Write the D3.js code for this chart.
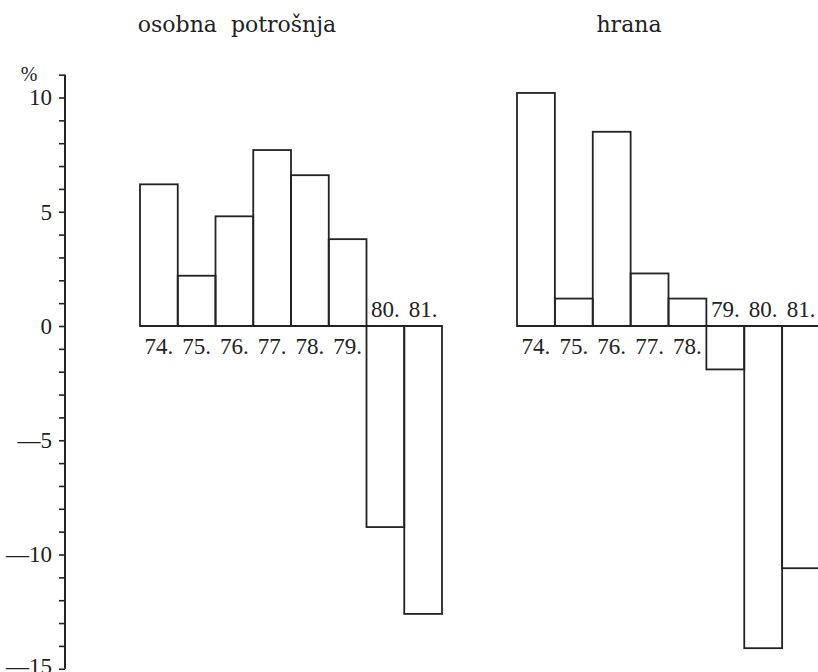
<!DOCTYPE html>
<html>
<head>
<meta charset="utf-8">
<script src="https://cdn.jsdelivr.net/npm/d3@7"></script>
<style>
  body { margin: 0; background: #fff; }
  text { fill: #222; }
  .times { font-family: "Liberation Serif", "Times New Roman", Times, serif; }
  .title { font-family: "DejaVu Serif", serif; }
</style>
</head>
<body>
<div id="chart"></div>
<script>
// data
const years = ["74.", "75.", "76.", "77.", "78.", "79.", "80.", "81."];
const osobnaPotrosnja = [6.2, 2.2, 4.8, 7.7, 6.6, 3.8, -8.8, -12.6];
const hrana = [10.2, 1.2, 8.5, 2.3, 1.2, -1.9, -14.1, -10.6];
const panelTitles = ["osobna \u00a0potrošnja", "hrana"];
const yTicks = [10, 5, 0, -5, -10, -15];

const svgWidth = 818, svgHeight = 672;

let svg = d3.select("#chart").append("svg")
            .attr("width", svgWidth)
            .attr("height", svgHeight);

// shared y scale
let yScale = d3.scaleLinear().domain([-15, 11]).range([668.75, 74.65]);

// y axis, ticks every unit, labels only on multiples of 5
let yAxis = d3.axisLeft(yScale)
              .tickValues(d3.range(-15, 12))
              .tickSize(6)
              .tickPadding(7)
              .tickFormat(d => yTicks.includes(d) ? (d < 0 ? "\u2014" + Math.abs(d) : d) : "");

let yAxisGroup = svg.append("g").attr("transform", "translate(65,0)").call(yAxis);
yAxisGroup.attr("font-family", null).attr("font-size", null);
yAxisGroup.select(".domain").remove();
yAxisGroup.append("line")
          .attr("x1", 0).attr("x2", 0)
          .attr("y1", yScale(11)).attr("y2", yScale(-15))
          .attr("stroke", "#222").attr("stroke-width", 2);
yAxisGroup.selectAll(".tick line").attr("stroke", "#222").attr("stroke-width", 1.6);
yAxisGroup.selectAll(".tick text")
          .attr("class", "times")
          .style("font-size", "23px")
          .attr("dy", d => d === -15 ? "0.2em" : "0.32em")  // bottom label sits on the page edge
          .attr("fill", "#222");

svg.append("text")
   .attr("class", "times")
   .attr("x", 29).attr("y", 81)
   .attr("text-anchor", "middle")
   .style("font-size", "20px")
   .text("%");

function drawPanel(values, title, x0, x1, titleX) {
  let xScale = d3.scaleBand().domain(years).range([x0, x1]).paddingInner(0).paddingOuter(0);
  let g = svg.append("g");

  g.selectAll("rect")
   .data(values)
   .enter().append("rect")
   .attr("x", (d, i) => xScale(years[i]))
   .attr("width", xScale.bandwidth())
   .attr("y", d => yScale(Math.max(0, d)))
   .attr("height", d => Math.abs(yScale(d) - yScale(0)))
   .attr("fill", "none")
   .attr("stroke", "#222")
   .attr("stroke-width", 1.8);

  // baseline
  g.append("line")
   .attr("x1", x0).attr("x2", x1)
   .attr("y1", yScale(0)).attr("y2", yScale(0))
   .attr("stroke", "#222").attr("stroke-width", 2);

  // year labels, below for positive bars, above for negative ones
  g.selectAll(".yearLabel")
   .data(values)
   .enter().append("text")
   .attr("class", "times")
   .attr("x", (d, i) => xScale(years[i]) + xScale.bandwidth() / 2)
   .attr("y", d => d >= 0 ? yScale(0) + 28 : yScale(0) - 9)
   .attr("text-anchor", "middle")
   .style("font-size", "23px")
   .text((d, i) => years[i]);

  svg.append("text")
     .attr("class", "title")
     .attr("x", titleX).attr("y", 32)
     .attr("text-anchor", "middle")
     .style("font-size", "22px")
     .attr("fill", "#333")
     .text(title);
}

drawPanel(osobnaPotrosnja, panelTitles[0], 140, 442, 237);
drawPanel(hrana, panelTitles[1], 517, 820, 629);
</script>
</body>
</html>
